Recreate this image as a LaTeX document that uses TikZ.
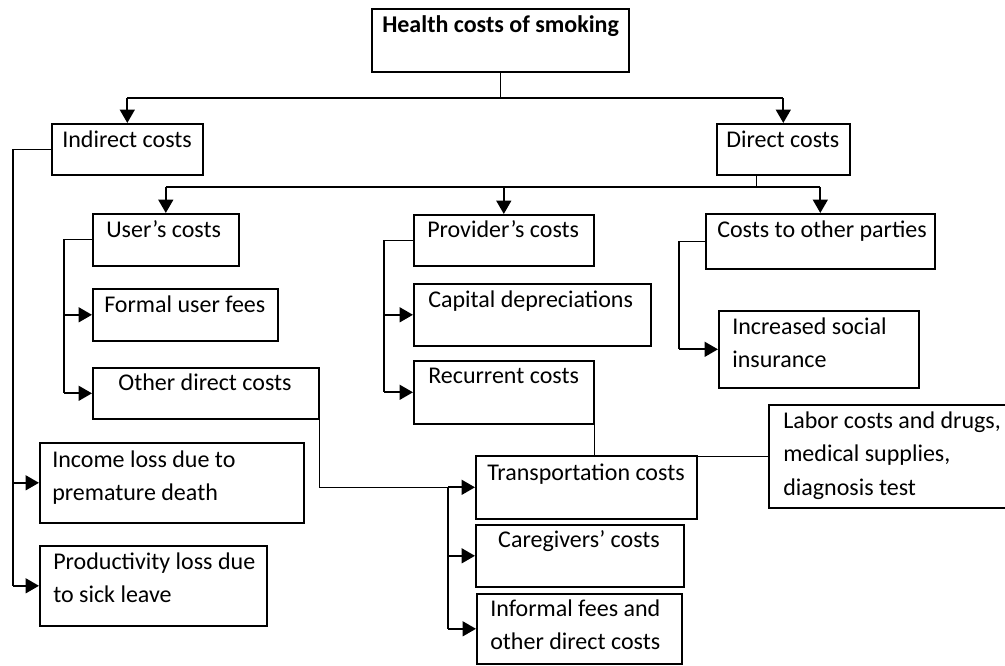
\documentclass[tikz,border=0pt]{standalone}
\usepackage{fontspec}
\setmainfont{Carlito}
\usetikzlibrary{arrows.meta}
\newcommand\mybox[5]{\node[box, minimum width=#4*0.75pt, minimum height=#5*0.75pt] (#1) at (#2,#3) {};}
\begin{document}
\begin{tikzpicture}[x=0.75pt,y=-0.75pt,
  box/.style={draw, line width=1.2pt, inner sep=0pt, anchor=north west},
  txt/.style={inner sep=0pt, anchor=base west, font=\fontsize{18pt}{25.3pt}\selectfont},
  mtxt/.style={txt, text width=240pt, align=flush left},
  conn/.style={line width=0.8pt},
  arr/.style={line width=1.7pt, -{Triangle[length=10pt,width=11pt]}},
]
\clip (0,0) rectangle (1005,665);
\fill[white] (0,0) rectangle (1005,665);

% boxes
\mybox{health}{371}{8}{257}{63}
\mybox{indirect}{51}{123}{151}{51}
\mybox{direct}{716}{123}{133}{51}
\mybox{users}{92}{213}{146}{52}
\mybox{provider}{413}{214}{180}{51}
\mybox{others}{705}{213}{229}{55}
\mybox{formal}{92}{288}{185}{52}
\mybox{capital}{413}{283}{237}{62}
\mybox{other}{92}{367}{226}{51}
\mybox{recurrent}{413}{360}{180}{63}
\mybox{social}{718}{310}{200}{77}
\mybox{income}{39}{442}{264}{80}
\mybox{product}{39}{545}{227}{80}
\mybox{transport}{475}{455}{221}{63}
\mybox{care}{475}{524}{208}{62}
\mybox{informal}{476}{593}{205}{70}
\mybox{labor}{768}{404}{245}{103}

% texts
\node[txt, font=\fontsize{18pt}{25.3pt}\selectfont\bfseries] (thealth) at (382,32) {Health costs of smoking};
\node[txt] (tindirect) at (62,147) {Indirect costs};
\node[txt] (tdirect) at (726,147) {Direct costs};
\node[txt] (tusers) at (106,237) {User’s costs};
\node[txt] (tprovider) at (427,237) {Provider’s costs};
\node[txt] (tothers) at (717,237) {Costs to other parties};
\node[txt] (tformal) at (104,312) {Formal user fees};
\node[txt] (tcapital) at (428,307) {Capital depreciations};
\node[txt, anchor=base] (tother) at (205,390) {Other direct costs};
\node[txt] (trecurrent) at (428,383) {Recurrent costs};
\node[mtxt] (tsocial) at (732,334) {Increased social\\insurance};
\node[mtxt] (tincome) at (52,467) {Income loss due to\\premature death};
\node[mtxt] (tproduct) at (53,569) {Productivity loss due\\to sick leave};
\node[txt] (ttransport) at (487,480) {Transportation costs};
\node[txt, anchor=base] (tcare) at (579,547) {Caregivers’ costs};
\node[mtxt] (tinformal) at (490,616) {Informal fees and\\other direct costs};
\node[mtxt] (tlabor) at (783,428) {Labor costs and drugs,\\medical supplies,\\diagnosis test};

% trunk coordinates
\coordinate (hj) at (0,98);
\coordinate (dj) at (0,187);
\coordinate (ij) at (13,0);
\coordinate (uj) at (64,0);
\coordinate (pj) at (384,0);
\coordinate (oj) at (679,0);
\coordinate (tj) at (448,0);
\coordinate (ds) at ([shift={(-26.5,0)}]direct.south);

% health -> indirect / direct
\draw[conn] (health.south) -- (health.south |- hj);
\draw[conn] (indirect.north |- hj) -- (direct.north |- hj);
\draw[arr] (indirect.north |- hj) -- (indirect.north);
\draw[arr] (direct.north |- hj) -- (direct.north);

% direct -> users / provider / others
\draw[conn] (ds) -- (ds |- dj);
\draw[conn] (users.north |- dj) -- (others.north |- dj);
\draw[arr] (users.north |- dj) -- (users.north);
\draw[arr] (provider.north |- dj) -- (provider.north);
\draw[arr] (others.north |- dj) -- (others.north);

% indirect -> income / productivity
\draw[conn] (indirect.west) -- (indirect.west -| ij) -- (product.west -| ij);
\draw[arr] (income.west -| ij) -- (income.west);
\draw[arr] (product.west -| ij) -- (product.west);

% users -> formal / other
\draw[conn] (users.west) -- (users.west -| uj) -- (other.west -| uj);
\draw[arr] (formal.west -| uj) -- (formal.west);
\draw[arr] (other.west -| uj) -- (other.west);

% provider -> capital / recurrent
\draw[conn] (provider.west) -- (provider.west -| pj) -- (recurrent.west -| pj);
\draw[arr] (capital.west -| pj) -- (capital.west);
\draw[arr] (recurrent.west -| pj) -- (recurrent.west);

% others -> social
\draw[conn] (others.west) -- (others.west -| oj) -- (social.west -| oj);
\draw[arr] (social.west -| oj) -- (social.west);

% other direct costs -> transport / care / informal
\draw[conn] (other.south east) |- (transport.west -| tj) -- (informal.west -| tj);
\draw[arr] (transport.west -| tj) -- (transport.west);
\draw[arr] (care.west -| tj) -- (care.west);
\draw[arr] (informal.west -| tj) -- (informal.west);

% recurrent -> labor
\draw[conn] (recurrent.south east) |- (labor.west);
\end{tikzpicture}
\end{document}
